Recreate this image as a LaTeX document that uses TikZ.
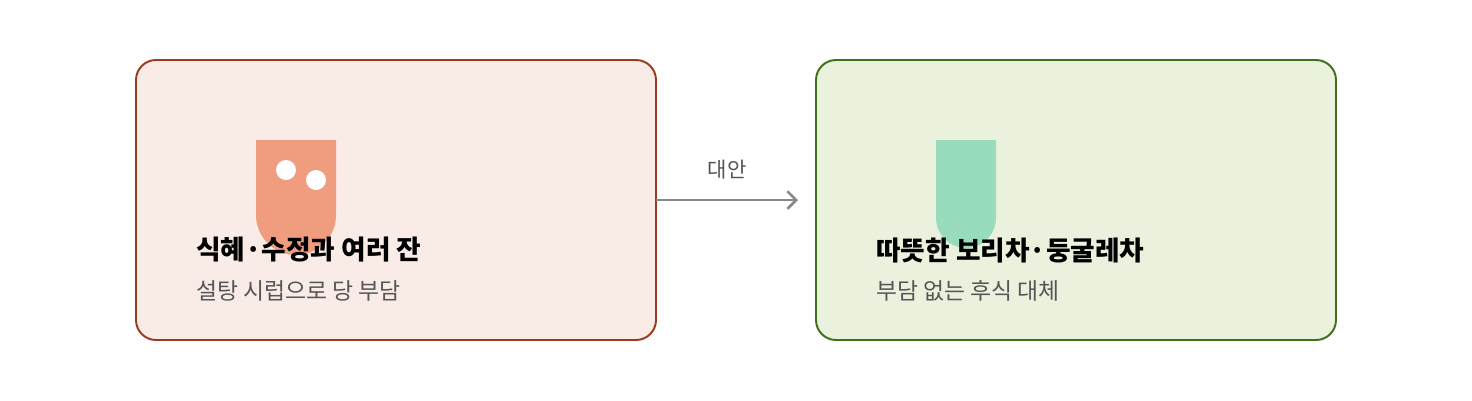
\documentclass[tikz,border=0pt]{standalone}
\usepackage{fontspec}
\setmainfont{Noto Sans CJK KR}
\usetikzlibrary{arrows.meta}
\definecolor{warmfill}{HTML}{F9ECE7}
\definecolor{warmline}{HTML}{9A3A1E}
\definecolor{warmcup}{HTML}{F09C7E}
\definecolor{coolfill}{HTML}{EAF2DE}
\definecolor{coolline}{HTML}{3F6F1A}
\definecolor{coolcup}{HTML}{98DBBD}
\definecolor{txtgray}{HTML}{555555}
\definecolor{arrgray}{HTML}{888888}
\tikzstyle{card} = [rounded corners=0.4cm, line width=1.1pt]
\tikzstyle{title} = [anchor=west, inner sep=0pt, font=\fontsize{15.2pt}{17pt}\selectfont\bfseries]
\tikzstyle{sub} = [anchor=west, inner sep=0pt, text=txtgray, font=\fontsize{13pt}{15pt}\selectfont]

\begin{document}
\begin{tikzpicture}[x=0.02cm, y=-0.02cm]
        \useasboundingbox (0,0) rectangle (1472,400);
        \draw [card, fill=warmfill, draw=warmline] (136,60) rectangle (656,340);
        \draw [card, fill=coolfill, draw=coolline] (816,60) rectangle (1336,340);
        \fill [warmcup] (256,140) -- (336,140) -- (336,215) arc (0:180:40) -- cycle;
        \fill [white] (286,170) circle (10);
        \fill [white] (316,180) circle (10);
        \fill [coolcup] (936,140) -- (996,140) -- (996,218) arc (0:180:30) -- cycle;
        \node (before) [title] at (196,250) {식혜·수정과 여러 잔};
        \node [sub] at (196,291) {설탕 시럽으로 당 부담};
        \node (after) [title] at (876,250) {따뜻한 보리차·둥굴레차};
        \node [sub] at (876,291) {부담 없는 후식 대체};
        \coordinate (L) at (656,200);
        \coordinate (R) at (798,200);
        \draw [-{Straight Barb[length=5pt]}, line width=1.5pt, draw=arrgray] (L) -- (R)
            node [midway, above=8pt, text=txtgray, font=\fontsize{12pt}{14pt}\selectfont] {대안};
    \end{tikzpicture}
\end{document}
